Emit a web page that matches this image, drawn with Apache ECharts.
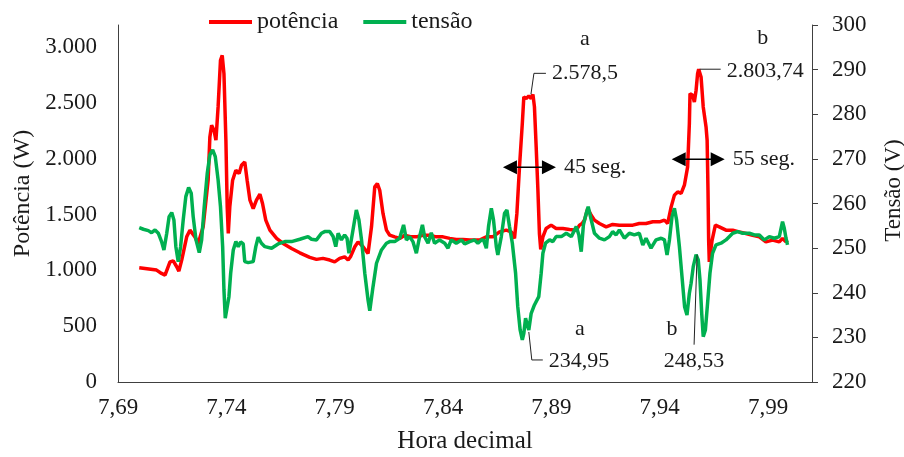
<!DOCTYPE html>
<html><head><meta charset="utf-8">
<script src="https://cdn.jsdelivr.net/npm/echarts@6/dist/echarts.min.js"></script>
<style>html,body{margin:0;padding:0;background:#fff}#c{width:904px;height:457px}</style>
</head><body><div id="c"></div>
<script>
const powerTime = [7.6998,7.7078,7.7101,7.7117,7.7140,7.7155,7.7171,7.7181,7.7194,7.7217,7.7232,7.7255,7.7270,7.7293,7.7316,7.7324,7.7332,7.7343,7.7352,7.7362,7.7373,7.7381,7.7389,7.7398,7.7404,7.7409,7.7416,7.7429,7.7444,7.7459,7.7470,7.7485,7.7496,7.7509,7.7524,7.7539,7.7555,7.7567,7.7582,7.7601,7.7632,7.7662,7.7701,7.7739,7.7785,7.7816,7.7846,7.7877,7.7900,7.7923,7.7946,7.7962,7.7973,7.7993,7.8008,7.8031,7.8054,7.8070,7.8085,7.8097,7.8108,7.8123,7.8139,7.8154,7.8177,7.8200,7.8223,7.8254,7.8277,7.8307,7.8338,7.8369,7.8400,7.8431,7.8461,7.8492,7.8523,7.8569,7.8600,7.8630,7.8661,7.8692,7.8715,7.8730,7.8741,7.8753,7.8766,7.8773,7.8784,7.8796,7.8807,7.8815,7.8822,7.8830,7.8838,7.8845,7.8851,7.8861,7.8876,7.8899,7.8922,7.8953,7.8984,7.9015,7.9030,7.9042,7.9053,7.9068,7.9084,7.9099,7.9122,7.9153,7.9183,7.9214,7.9245,7.9276,7.9306,7.9337,7.9368,7.9399,7.9422,7.9437,7.9453,7.9468,7.9483,7.9499,7.9514,7.9529,7.9537,7.9540,7.9552,7.9560,7.9568,7.9575,7.9580,7.9591,7.9601,7.9614,7.9619,7.9623,7.9626,7.9629,7.9642,7.9657,7.9675,7.9706,7.9737,7.9767,7.9798,7.9829,7.9860,7.9890,7.9921,7.9952,7.9967,7.9983,7.9990];
const powerValues = [1024,1003,973,958,1077,1086,1033,994,1093,1301,1361,1301,1242,1391,1809,2197,2301,2257,2167,2466,2884,2928,2764,2167,1570,1331,1570,1809,1898,1869,1943,1973,1809,1630,1555,1630,1684,1600,1451,1361,1287,1242,1197,1158,1117,1099,1108,1093,1077,1108,1122,1093,1122,1212,1256,1212,1152,1391,1749,1779,1719,1511,1361,1316,1301,1287,1316,1301,1301,1316,1316,1301,1301,1287,1278,1278,1272,1272,1301,1301,1346,1361,1346,1287,1511,1928,2317,2555,2540,2565,2540,2578.5,2466,2107,1719,1331,1188,1301,1376,1406,1376,1376,1367,1361,1406,1421,1451,1555,1495,1451,1421,1391,1412,1406,1406,1406,1421,1421,1436,1436,1451,1421,1570,1675,1704,1690,1764,1928,2317,2585,2570,2510,2615,2764,2803.74,2734,2466,2286,2167,1719,1272,1077,1272,1406,1391,1361,1361,1346,1331,1316,1301,1256,1272,1256,1287,1256,1272];
const voltageTime = [7.6998,7.7017,7.7040,7.7055,7.7071,7.7086,7.7101,7.7112,7.7125,7.7136,7.7148,7.7158,7.7167,7.7178,7.7189,7.7201,7.7213,7.7226,7.7238,7.7247,7.7260,7.7275,7.7286,7.7298,7.7312,7.7324,7.7337,7.7349,7.7362,7.7373,7.7383,7.7389,7.7395,7.7404,7.7412,7.7420,7.7432,7.7444,7.7455,7.7466,7.7478,7.7485,7.7501,7.7524,7.7536,7.7547,7.7562,7.7578,7.7609,7.7639,7.7670,7.7701,7.7739,7.7777,7.7793,7.7816,7.7839,7.7854,7.7877,7.7893,7.7905,7.7916,7.7931,7.7946,7.7957,7.7966,7.7982,7.8000,7.8012,7.8024,7.8039,7.8054,7.8062,7.8077,7.8093,7.8116,7.8139,7.8154,7.8177,7.8200,7.8218,7.8231,7.8246,7.8261,7.8277,7.8292,7.8305,7.8315,7.8331,7.8346,7.8361,7.8384,7.8408,7.8423,7.8438,7.8461,7.8485,7.8500,7.8523,7.8546,7.8561,7.8577,7.8587,7.8600,7.8610,7.8623,7.8633,7.8646,7.8653,7.8669,7.8684,7.8695,7.8707,7.8720,7.8735,7.8745,7.8756,7.8766,7.8773,7.8781,7.8789,7.8796,7.8807,7.8822,7.8842,7.8853,7.8861,7.8873,7.8892,7.8907,7.8922,7.8946,7.8969,7.8992,7.9015,7.9027,7.9038,7.9048,7.9061,7.9070,7.9084,7.9099,7.9122,7.9145,7.9168,7.9183,7.9199,7.9214,7.9237,7.9260,7.9283,7.9306,7.9322,7.9337,7.9360,7.9383,7.9407,7.9422,7.9434,7.9445,7.9457,7.9468,7.9478,7.9491,7.9503,7.9515,7.9526,7.9537,7.9545,7.9555,7.9568,7.9578,7.9586,7.9594,7.9601,7.9611,7.9621,7.9632,7.9644,7.9660,7.9683,7.9706,7.9737,7.9760,7.9783,7.9814,7.9837,7.9860,7.9883,7.9906,7.9929,7.9952,7.9967,7.9975,7.9983,7.9990];
const voltageValues = [254.59,254.23,253.92,253.47,254.08,253.34,251.46,249.59,253.34,257.06,257.96,256.32,250.33,246.97,250.33,256.32,261.54,263.56,262.31,257.06,251.84,248.99,251.84,259.30,266.79,270.89,272.01,270.51,265.29,259.30,250.33,240.63,234.28,234.28,239.12,244.37,249.59,251.46,250.33,251.39,250.94,246.97,246.75,246.97,250.33,252.44,251.10,250.33,249.98,250.94,251.46,251.46,251.99,252.58,251.99,251.84,253.34,253.70,253.70,252.58,250.33,253.34,251.84,252.96,252.22,248.85,253.34,258.56,256.32,251.84,244.37,238.38,235.99,241.37,246.61,249.59,251.10,251.46,251.46,252.22,255.20,251.84,252.58,251.46,248.85,252.58,255.20,252.58,251.10,253.47,251.10,251.84,251.10,249.98,251.84,251.10,251.84,250.94,251.46,251.84,251.10,251.84,251.84,249.98,254.82,258.94,256.32,250.33,248.47,252.58,257.82,258.56,254.82,251.10,244.37,236.88,231.66,229.42,230.92,234.28,232.78,231.66,235.40,237.26,239.12,244.37,248.85,251.10,251.84,251.46,252.58,252.58,253.34,252.58,254.82,252.96,249.21,255.20,257.82,259.30,256.32,253.34,252.22,251.84,252.58,253.70,252.96,254.08,252.22,253.34,252.96,253.34,250.72,252.22,249.98,251.84,252.22,251.84,248.47,251.84,257.06,258.94,256.32,250.33,243.61,236.88,235.02,239.89,242.13,245.85,248.53,247.35,242.87,235.40,230.16,231.66,237.64,244.37,248.85,250.72,251.10,251.84,253.34,253.70,253.34,253.34,252.96,252.96,251.84,252.58,252.22,252.58,255.94,254.45,252.22,250.72];
const xTickValues = [7.69,7.74,7.79,7.84,7.89,7.94,7.99];
const seriesNames = ['potência','tensão'];
const eventNames = ['a','b'];
const peakPoints = [[7.8815,2578.5],[7.9580,2803.74]];
const peakLabels = ['2.578,5','2.803,74'];
const voltagePoints = [[7.8796,231.66],[7.9568,248.53]];
const voltageLabels = ['234,95','248,53'];
const durationLabels = ['45 seg.','55 seg.'];

const FONT = '"Liberation Serif", "Times New Roman", serif';
const TXT = '#1a1a1a';
const AX = '#404040';

function fmtThousands(v){
  if (v >= 1000) return Math.floor(v/1000) + '.' + String(v % 1000).padStart(3,'0');
  return String(v);
}

const chart = echarts.init(document.getElementById('c'), null, {renderer:'canvas'});
chart.setOption({
  animation:false,
  backgroundColor:'#fff',
  textStyle:{fontFamily:FONT, color:TXT},
  grid:{left:118, right:92, top:25, bottom:75, outerBoundsMode:'none', containLabel:false},
  legend:{
    left:209, top:10, padding:0, icon:'rect', itemWidth:43, itemHeight:4, itemGap:25,
    textStyle:{fontFamily:FONT, fontSize:24, color:TXT},
    data:seriesNames
  },
  xAxis:{
    type:'value', min:7.69, max:8.0103,
    name:'Hora decimal', nameLocation:'middle', nameGap:47,
    nameTextStyle:{fontFamily:FONT, fontSize:25, color:TXT},
    axisLine:{show:true, lineStyle:{color:AX, width:1}},
    axisTick:{show:false},
    splitLine:{show:false},
    axisLabel:{customValues:xTickValues, fontFamily:FONT, fontSize:23, color:TXT, margin:14,
      formatter:v=>v.toFixed(2).replace('.',',')}
  },
  yAxis:[{
    type:'value', min:0, max:3200, interval:500, position:'left',
    name:'Potência (W)', nameLocation:'middle', nameGap:80, nameRotate:90,
    nameTextStyle:{fontFamily:FONT, fontSize:24, color:TXT, padding:[0,0,0,20]},
    axisLine:{show:true, lineStyle:{color:AX, width:1}},
    axisTick:{show:false},
    splitLine:{show:false},
    axisLabel:{showMaxLabel:false, fontFamily:FONT, fontSize:23, color:TXT, margin:21, formatter:fmtThousands}
  },{
    type:'value', min:220, max:300, interval:10, position:'right',
    name:'Tensão (V)', nameLocation:'middle', nameGap:70, nameRotate:90,
    nameTextStyle:{fontFamily:FONT, fontSize:23, color:TXT, padding:[0,0,0,26]},
    axisLine:{show:true, lineStyle:{color:AX, width:1}},
    axisTick:{show:true, inside:false, length:6, lineStyle:{color:AX}},
    splitLine:{show:false},
    axisLabel:{fontFamily:FONT, fontSize:23, color:TXT, margin:20}
  }],
  series:[{
    name:seriesNames[0], type:'line', yAxisIndex:0, symbol:'none', smooth:false,
    lineStyle:{color:'#ff0000', width:3.5}, itemStyle:{color:'#ff0000'},
    data:powerTime.map((t,i)=>[t,powerValues[i]])
  },{
    name:seriesNames[1], type:'line', yAxisIndex:1, symbol:'none', smooth:false,
    lineStyle:{color:'#00b050', width:3.5}, itemStyle:{color:'#00b050'},
    data:voltageTime.map((t,i)=>[t,voltageValues[i]])
  }]
});

function txt(x,y,s,align){
  return {type:'text', z:100, style:{x:x, y:y, text:s, fontFamily:FONT, fontSize:22, fill:TXT, align:align||'left', verticalAlign:'middle'}};
}
function poly(points){
  return {type:'polyline', z:100, shape:{points:points}, style:{stroke:'#222', lineWidth:1, fill:null}};
}
function arrow(x1,x2,y){
  return [
    {type:'line', z:100, shape:{x1:x1+8,y1:y,x2:x2-8,y2:y}, style:{stroke:'#000', lineWidth:1.5}},
    {type:'polygon', z:100, shape:{points:[[x1,y],[x1+14,y-7],[x1+14,y+7]]}, style:{fill:'#000'}},
    {type:'polygon', z:100, shape:{points:[[x2,y],[x2-14,y-7],[x2-14,y+7]]}, style:{fill:'#000'}}
  ];
}

const g = [];
// event a
const pa = chart.convertToPixel({seriesIndex:0}, peakPoints[0]);
g.push(poly([[pa[0]-2,pa[1]],[pa[0]+1,pa[1]-21],[pa[0]+13,pa[1]-21]]));
g.push(txt(pa[0]+19, pa[1]-21, peakLabels[0]));
g.push(txt(pa[0]+52, pa[1]-55, eventNames[0], 'center'));
g.push(...arrow(pa[0]-30, pa[0]+23, pa[1]+73));
g.push(txt(pa[0]+31, pa[1]+73, durationLabels[0]));
const va = chart.convertToPixel({seriesIndex:1}, voltagePoints[0]);
g.push(poly([[va[0],va[1]+2],[va[0]+3,va[1]+30],[va[0]+14,va[1]+30]]));
g.push(txt(va[0]+20, va[1]+31, voltageLabels[0]));
g.push(txt(va[0]+51, va[1]-1, eventNames[0], 'center'));
// event b
const pb = chart.convertToPixel({seriesIndex:0}, peakPoints[1]);
g.push(poly([[pb[0]+1,pb[1]],[pb[0]+22,pb[1]]]));
g.push(txt(pb[0]+28, pb[1]+2, peakLabels[1]));
g.push(txt(pb[0]+64, pb[1]-31, eventNames[1], 'center'));
g.push(...arrow(pb[0]-27, pb[0]+26, pb[1]+90));
g.push(txt(pb[0]+34, pb[1]+90, durationLabels[1]));
const vb = chart.convertToPixel({seriesIndex:1}, voltagePoints[1]);
g.push(poly([[vb[0]+1,vb[1]],[vb[0]-2,vb[1]+90]]));
g.push(txt(vb[0]-2, vb[1]+107, voltageLabels[1], 'center'));
g.push(txt(vb[0]-24, vb[1]+75, eventNames[1], 'center'));

chart.setOption({graphic:{elements:g}});
</script>
</body></html>
